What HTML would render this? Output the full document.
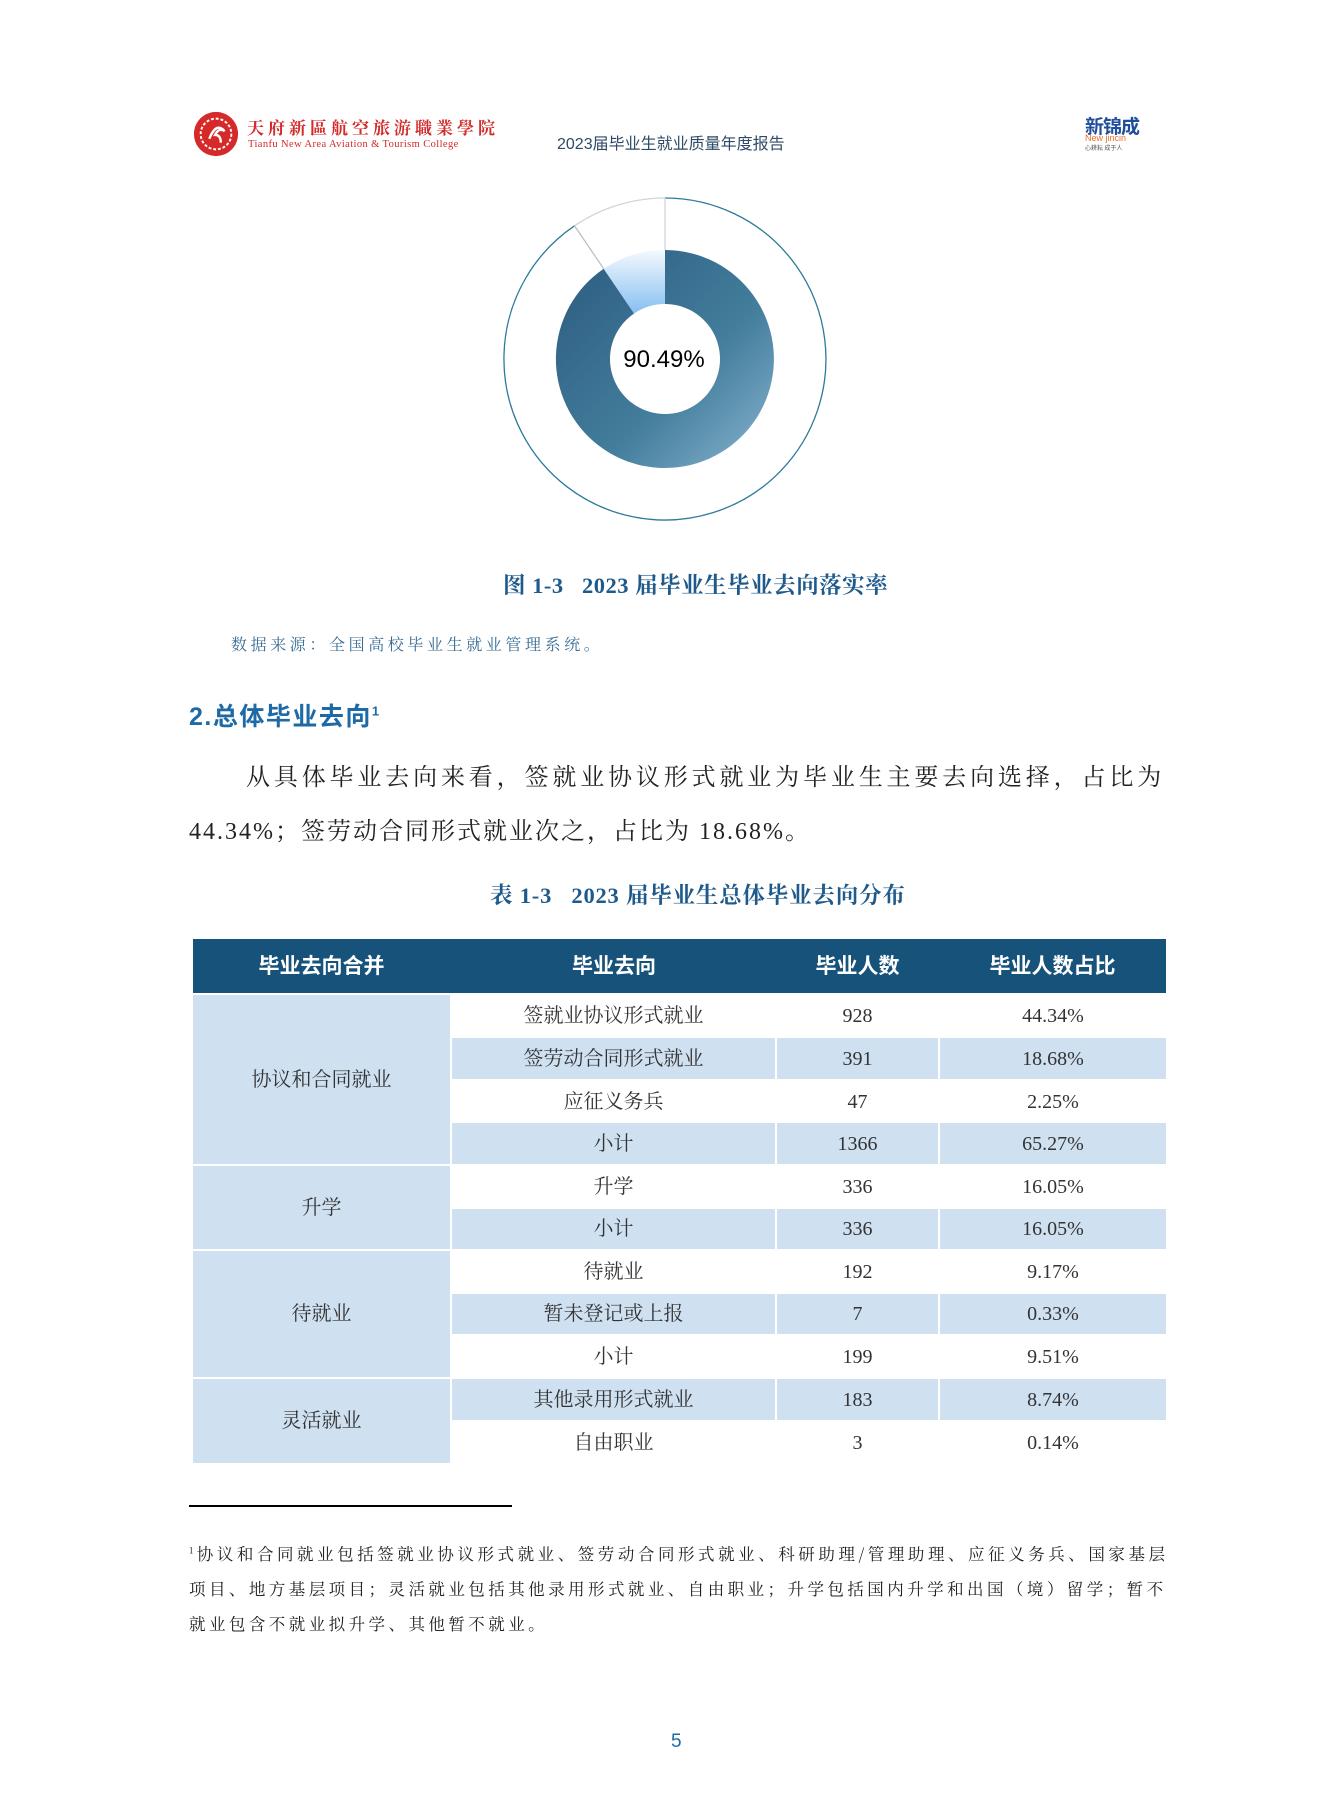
<!DOCTYPE html>
<html><head><meta charset="utf-8"><style>
html,body{margin:0;padding:0;background:#fff}
body{width:1323px;height:1795px;position:relative;overflow:hidden;font-family:"Liberation Serif","Noto Serif CJK SC",serif;color:#222}
.a{position:absolute;white-space:nowrap}
.c{position:absolute;display:flex;align-items:center;justify-content:center;font-size:20px;color:#333;line-height:1}
.h{background:#16527a;color:#fff;font-family:"Liberation Sans","Noto Sans CJK SC",sans-serif;font-weight:bold;font-size:21px}
.s{background:#cfe0f1}
</style></head><body>
<!-- header -->
<svg class="a" style="left:192px;top:110px" width="48" height="48" viewBox="0 0 50 50">
<circle cx="25" cy="25" r="23" fill="#d62a2a"/><circle cx="25" cy="25" r="16" fill="none" stroke="#fff" stroke-width="2" stroke-dasharray="3 2"/>
<path d="M18 30 Q25 12 34 22 Q28 18 24 26 Q30 26 30 34" fill="none" stroke="#fff" stroke-width="2.5"/>
</svg>
<div class="a" style="left:247px;top:117px;font-size:17px;line-height:20px;color:#d32a2a;letter-spacing:4px;font-family:'Noto Serif CJK SC',serif;font-weight:bold">天府新區航空旅游職業學院</div>
<div class="a" style="left:248px;top:139px;font-size:10.5px;line-height:12px;color:#d32a2a;letter-spacing:0.4px">Tianfu New Area Aviation &amp; Tourism College</div>
<div class="a" style="left:557px;top:130px;font-size:16px;color:#2f4a66;font-family:'Liberation Sans','Noto Sans CJK SC',sans-serif">2023届毕业生就业质量年度报告</div>
<div class="a" style="left:1085px;top:112px;font-size:19px;font-weight:bold;color:#1f4e9a;font-family:'Liberation Sans','Noto Sans CJK SC',sans-serif;letter-spacing:-1px">新锦成</div>
<div class="a" style="left:1085px;top:133px;font-size:9px;color:#e8702a;font-family:'Liberation Sans',sans-serif">New jincin</div>
<div class="a" style="left:1085px;top:143px;font-size:6px;color:#555;font-family:'Noto Sans CJK SC',sans-serif">心耕耘 成于人</div>
<!-- donut -->
<svg class="a" style="left:0;top:0" width="1323" height="600">
<defs>
<linearGradient id="g1" x1="0" y1="0" x2="1" y2="1"><stop offset="0" stop-color="#2c5a80"/><stop offset="0.6" stop-color="#437e9c"/><stop offset="1" stop-color="#8ab6d2"/></linearGradient>
<linearGradient id="g2" x1="0" y1="0" x2="0" y2="1"><stop offset="0" stop-color="#f4f9ff"/><stop offset="1" stop-color="#86bff0"/></linearGradient>
</defs>
<g transform="translate(665,359)">
<path d="M0,-161 A161,161 0 1 1 -90.5,-133.2" fill="none" stroke="#2e7a99" stroke-width="1.3"/>
<path d="M-90.5,-133.2 A161,161 0 0 1 0,-161" fill="none" stroke="#cfd6dc" stroke-width="1.3"/>
<line x1="0" y1="-109" x2="0" y2="-161" stroke="#cfd6dc" stroke-width="1.3"/>
<line x1="-61.3" y1="-90.2" x2="-90.5" y2="-133.2" stroke="#b9c2ca" stroke-width="1.3"/>
<path d="M0,-109 A109,109 0 1 1 -61.3,-90.2 L-30.9,-45.5 A55,55 0 1 0 0,-55 Z" fill="url(#g1)"/>
<path d="M-61.3,-90.2 A109,109 0 0 1 0,-109 L0,-55 A55,55 0 0 0 -30.9,-45.5 Z" fill="url(#g2)"/>
<text x="-1" y="8" text-anchor="middle" font-family="Liberation Sans,sans-serif" font-size="24" fill="#000">90.49%</text>
</g>
</svg>
<div class="a" style="left:503px;top:568px;font-size:22.5px;font-weight:bold;color:#1e5a8c;letter-spacing:0.5px">图 1-3&nbsp;&nbsp;&nbsp;2023 届毕业生毕业去向落实率</div>
<div class="a" style="left:231px;top:632px;font-size:16px;color:#3a6d95;letter-spacing:3.6px">数据来源：全国高校毕业生就业管理系统。</div>
<div class="a" style="left:189px;top:697px;font-size:25px;font-weight:bold;color:#1e6aa6;font-family:'Liberation Sans','Noto Sans CJK SC',sans-serif;letter-spacing:1.5px">2.总体毕业去向<sup style="font-size:13px">1</sup></div>
<div class="a" style="left:246px;top:757px;font-size:24px;color:#222;letter-spacing:3.85px">从具体毕业去向来看，签就业协议形式就业为毕业生主要去向选择，占比为</div>
<div class="a" style="left:189px;top:811px;font-size:24px;color:#222;letter-spacing:2px">44.34%；签劳动合同形式就业次之，占比为 18.68%。</div>
<div class="a" style="left:490px;top:878px;font-size:22.5px;font-weight:bold;color:#1e5a8c;letter-spacing:0.8px">表 1-3&nbsp;&nbsp;&nbsp;2023 届毕业生总体毕业去向分布</div>
<!-- table -->
<div class="c h" style="left:193px;top:939px;width:973px;height:54px"></div>
<div class="c h" style="left:193px;top:939px;width:257px;height:54px;background:none">毕业去向合并</div>
<div class="c h" style="left:452px;top:939px;width:324px;height:54px;background:none">毕业去向</div>
<div class="c h" style="left:776px;top:939px;width:163px;height:54px;background:none">毕业人数</div>
<div class="c h" style="left:939px;top:939px;width:227px;height:54px;background:none">毕业人数占比</div>

<div class="c s" style="left:193px;top:995px;width:257px;height:169px">协议和合同就业</div>
<div class="c s" style="left:193px;top:1166px;width:257px;height:83px">升学</div>
<div class="c s" style="left:193px;top:1251px;width:257px;height:126px">待就业</div>
<div class="c s" style="left:193px;top:1379px;width:257px;height:84px">灵活就业</div>

<div class="c" style="left:452px;top:995px;width:323px;height:41px">签就业协议形式就业</div><div class="c" style="left:777px;top:995px;width:161px;height:41px">928</div><div class="c" style="left:940px;top:995px;width:226px;height:41px">44.34%</div>
<div class="c s" style="left:452px;top:1038px;width:323px;height:41px">签劳动合同形式就业</div><div class="c s" style="left:777px;top:1038px;width:161px;height:41px">391</div><div class="c s" style="left:940px;top:1038px;width:226px;height:41px">18.68%</div>
<div class="c" style="left:452px;top:1081px;width:323px;height:41px">应征义务兵</div><div class="c" style="left:777px;top:1081px;width:161px;height:41px">47</div><div class="c" style="left:940px;top:1081px;width:226px;height:41px">2.25%</div>
<div class="c s" style="left:452px;top:1123px;width:323px;height:41px">小计</div><div class="c s" style="left:777px;top:1123px;width:161px;height:41px">1366</div><div class="c s" style="left:940px;top:1123px;width:226px;height:41px">65.27%</div>
<div class="c" style="left:452px;top:1166px;width:323px;height:41px">升学</div><div class="c" style="left:777px;top:1166px;width:161px;height:41px">336</div><div class="c" style="left:940px;top:1166px;width:226px;height:41px">16.05%</div>
<div class="c s" style="left:452px;top:1209px;width:323px;height:40px">小计</div><div class="c s" style="left:777px;top:1209px;width:161px;height:40px">336</div><div class="c s" style="left:940px;top:1209px;width:226px;height:40px">16.05%</div>
<div class="c" style="left:452px;top:1251px;width:323px;height:41px">待就业</div><div class="c" style="left:777px;top:1251px;width:161px;height:41px">192</div><div class="c" style="left:940px;top:1251px;width:226px;height:41px">9.17%</div>
<div class="c s" style="left:452px;top:1294px;width:323px;height:40px">暂未登记或上报</div><div class="c s" style="left:777px;top:1294px;width:161px;height:40px">7</div><div class="c s" style="left:940px;top:1294px;width:226px;height:40px">0.33%</div>
<div class="c" style="left:452px;top:1336px;width:323px;height:41px">小计</div><div class="c" style="left:777px;top:1336px;width:161px;height:41px">199</div><div class="c" style="left:940px;top:1336px;width:226px;height:41px">9.51%</div>
<div class="c s" style="left:452px;top:1379px;width:323px;height:41px">其他录用形式就业</div><div class="c s" style="left:777px;top:1379px;width:161px;height:41px">183</div><div class="c s" style="left:940px;top:1379px;width:226px;height:41px">8.74%</div>
<div class="c" style="left:452px;top:1422px;width:323px;height:41px">自由职业</div><div class="c" style="left:777px;top:1422px;width:161px;height:41px">3</div><div class="c" style="left:940px;top:1422px;width:226px;height:41px">0.14%</div>

<div class="a" style="left:189px;top:1505px;width:323px;height:2px;background:#000"></div>
<div class="a" style="left:189px;top:1541px;font-size:16.5px;color:#222;letter-spacing:3.55px;font-family:'Noto Serif CJK SC',serif"><sup style="font-size:9px">1</sup>协议和合同就业包括签就业协议形式就业、签劳动合同形式就业、科研助理/管理助理、应征义务兵、国家基层</div>
<div class="a" style="left:189px;top:1576px;font-size:16.5px;color:#222;letter-spacing:3.45px;font-family:'Noto Serif CJK SC',serif">项目、地方基层项目；灵活就业包括其他录用形式就业、自由职业；升学包括国内升学和出国（境）留学；暂不</div>
<div class="a" style="left:189px;top:1611px;font-size:16.5px;color:#222;letter-spacing:3.45px;font-family:'Noto Serif CJK SC',serif">就业包含不就业拟升学、其他暂不就业。</div>
<div class="a" style="left:671px;top:1731px;font-size:19px;color:#1e6aa6;font-family:'Liberation Sans',sans-serif">5</div>
</body></html>
